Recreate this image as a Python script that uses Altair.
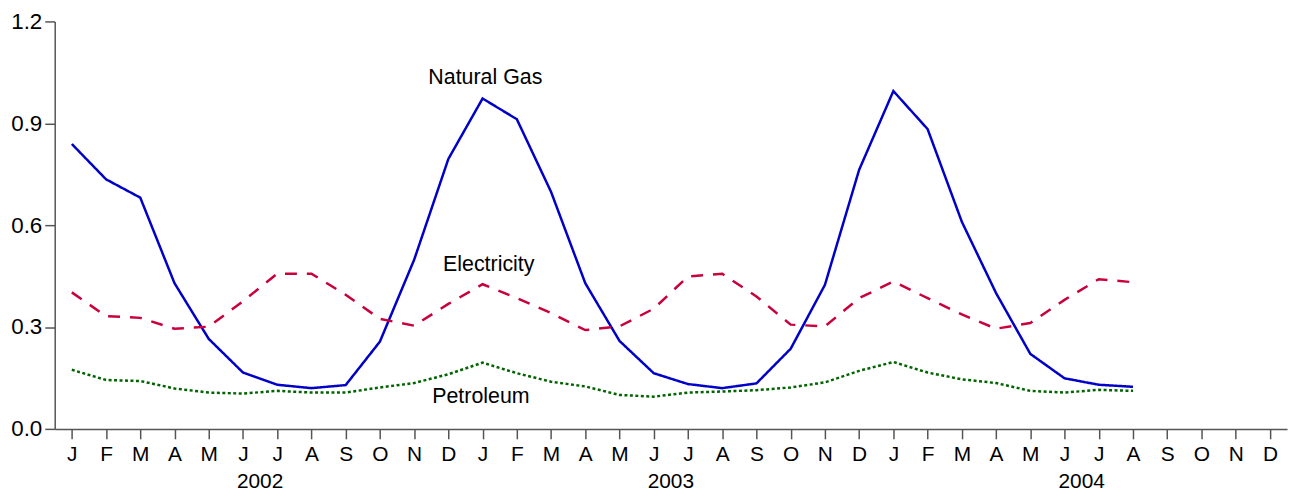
import altair as alt
import pandas as pd

month_letters = ["J", "F", "M", "A", "M", "J", "J", "A", "S", "O", "N", "D"]
years = [2002, 2003, 2004]

natural_gas = [0.839, 0.735, 0.681, 0.429, 0.265, 0.166, 0.130, 0.120, 0.129, 0.257, 0.498, 0.795,
               0.973, 0.912, 0.698, 0.429, 0.259, 0.164, 0.132, 0.120, 0.134, 0.236, 0.424, 0.763,
               0.995, 0.883, 0.610, 0.400, 0.221, 0.149, 0.130, 0.124]
electricity = [0.402, 0.332, 0.327, 0.295, 0.301, 0.376, 0.457, 0.457, 0.395, 0.324, 0.304, 0.368,
               0.426, 0.385, 0.341, 0.291, 0.302, 0.354, 0.449, 0.457, 0.390, 0.307, 0.302, 0.385,
               0.434, 0.385, 0.337, 0.295, 0.312, 0.380, 0.441, 0.432]
petroleum = [0.174, 0.144, 0.141, 0.119, 0.107, 0.104, 0.112, 0.107, 0.107, 0.122, 0.135, 0.161,
             0.195, 0.164, 0.139, 0.125, 0.100, 0.095, 0.107, 0.110, 0.114, 0.122, 0.137, 0.171,
             0.197, 0.166, 0.146, 0.135, 0.112, 0.107, 0.115, 0.112]

series_names = ["Natural Gas", "Electricity", "Petroleum"]
series_colors = ["#0000C8", "#C8003C", "#006400"]
label_pos_month = [12.08, 12.18, 11.95]
label_pos_value = [1.034, 0.483, 0.094]

FONT = "Liberation Sans"
n_months = len(month_letters) * len(years)

rows = []
for name, vals in zip(series_names, [natural_gas, electricity, petroleum]):
    for i, v in enumerate(vals):
        rows.append({"m": i, "value": v, "series": name})
df = pd.DataFrame(rows)

xscale = alt.Scale(domain=[-0.5, n_months - 0.5], nice=False, zero=False)
yscale = alt.Scale(domain=[0, 1.2], nice=False)

letters_js = "[" + ",".join('"%s"' % s for s in month_letters) + "]"

xaxis = alt.Axis(values=list(range(n_months)), tickCount=n_months,
                 labelExpr=letters_js + "[datum.value % 12]",
                 title=None, grid=False, tickSize=10, labelPadding=5, labelFontSize=21,
                 labelFont=FONT, labelColor="black", domainColor="#555", tickColor="#555",
                 labelAngle=0, labelFlush=False, labelOverlap=False)
yaxis = alt.Axis(values=[0, 0.3, 0.6, 0.9, 1.2], format=".1f", title=None, grid=False,
                 tickSize=10, labelPadding=3, labelFontSize=22.5, labelFont=FONT,
                 labelColor="black", domainColor="#555", tickColor="#555")

color_scale = alt.Scale(domain=series_names, range=series_colors)
dash_scale = alt.Scale(domain=series_names, range=[[1, 0], [12, 10], [3, 2.5]])
width_scale = alt.Scale(domain=series_names, range=[2.5, 2.5, 3.2])

lines = alt.Chart(df).mark_line(strokeCap="butt").encode(
    x=alt.X("m:Q", scale=xscale, axis=xaxis),
    y=alt.Y("value:Q", scale=yscale, axis=yaxis),
    color=alt.Color("series:N", scale=color_scale, legend=None),
    strokeDash=alt.StrokeDash("series:N", scale=dash_scale, legend=None),
    strokeWidth=alt.StrokeWidth("series:N", scale=width_scale, legend=None),
    detail="series:N",
)

lab_df = pd.DataFrame({"m": label_pos_month, "value": label_pos_value, "series": series_names})
labels = alt.Chart(lab_df).mark_text(font=FONT, fontSize=21.5, color="black").encode(
    x=alt.X("m:Q", scale=xscale),
    y=alt.Y("value:Q", scale=yscale),
    text="series:N",
)

year_df = pd.DataFrame({"m": [i * 12 + 5.5 for i in range(len(years))], "year": [str(y) for y in years]})
year_text = alt.Chart(year_df).mark_text(font=FONT, fontSize=21, color="black", baseline="alphabetic").encode(
    x=alt.X("m:Q", scale=xscale),
    y=alt.value(469),
    text="year:N",
)

chart = alt.layer(lines, labels, year_text).properties(
    width=1240, height=410,
    autosize=alt.AutoSizeParams(type="none"),
    padding={"left": 47, "top": 12, "right": 4, "bottom": 64},
).configure_view(stroke=None).configure_axis(domainWidth=1.5, tickWidth=1.5)

chart.save("out.html", embed_options={"renderer": "svg", "actions": False})
